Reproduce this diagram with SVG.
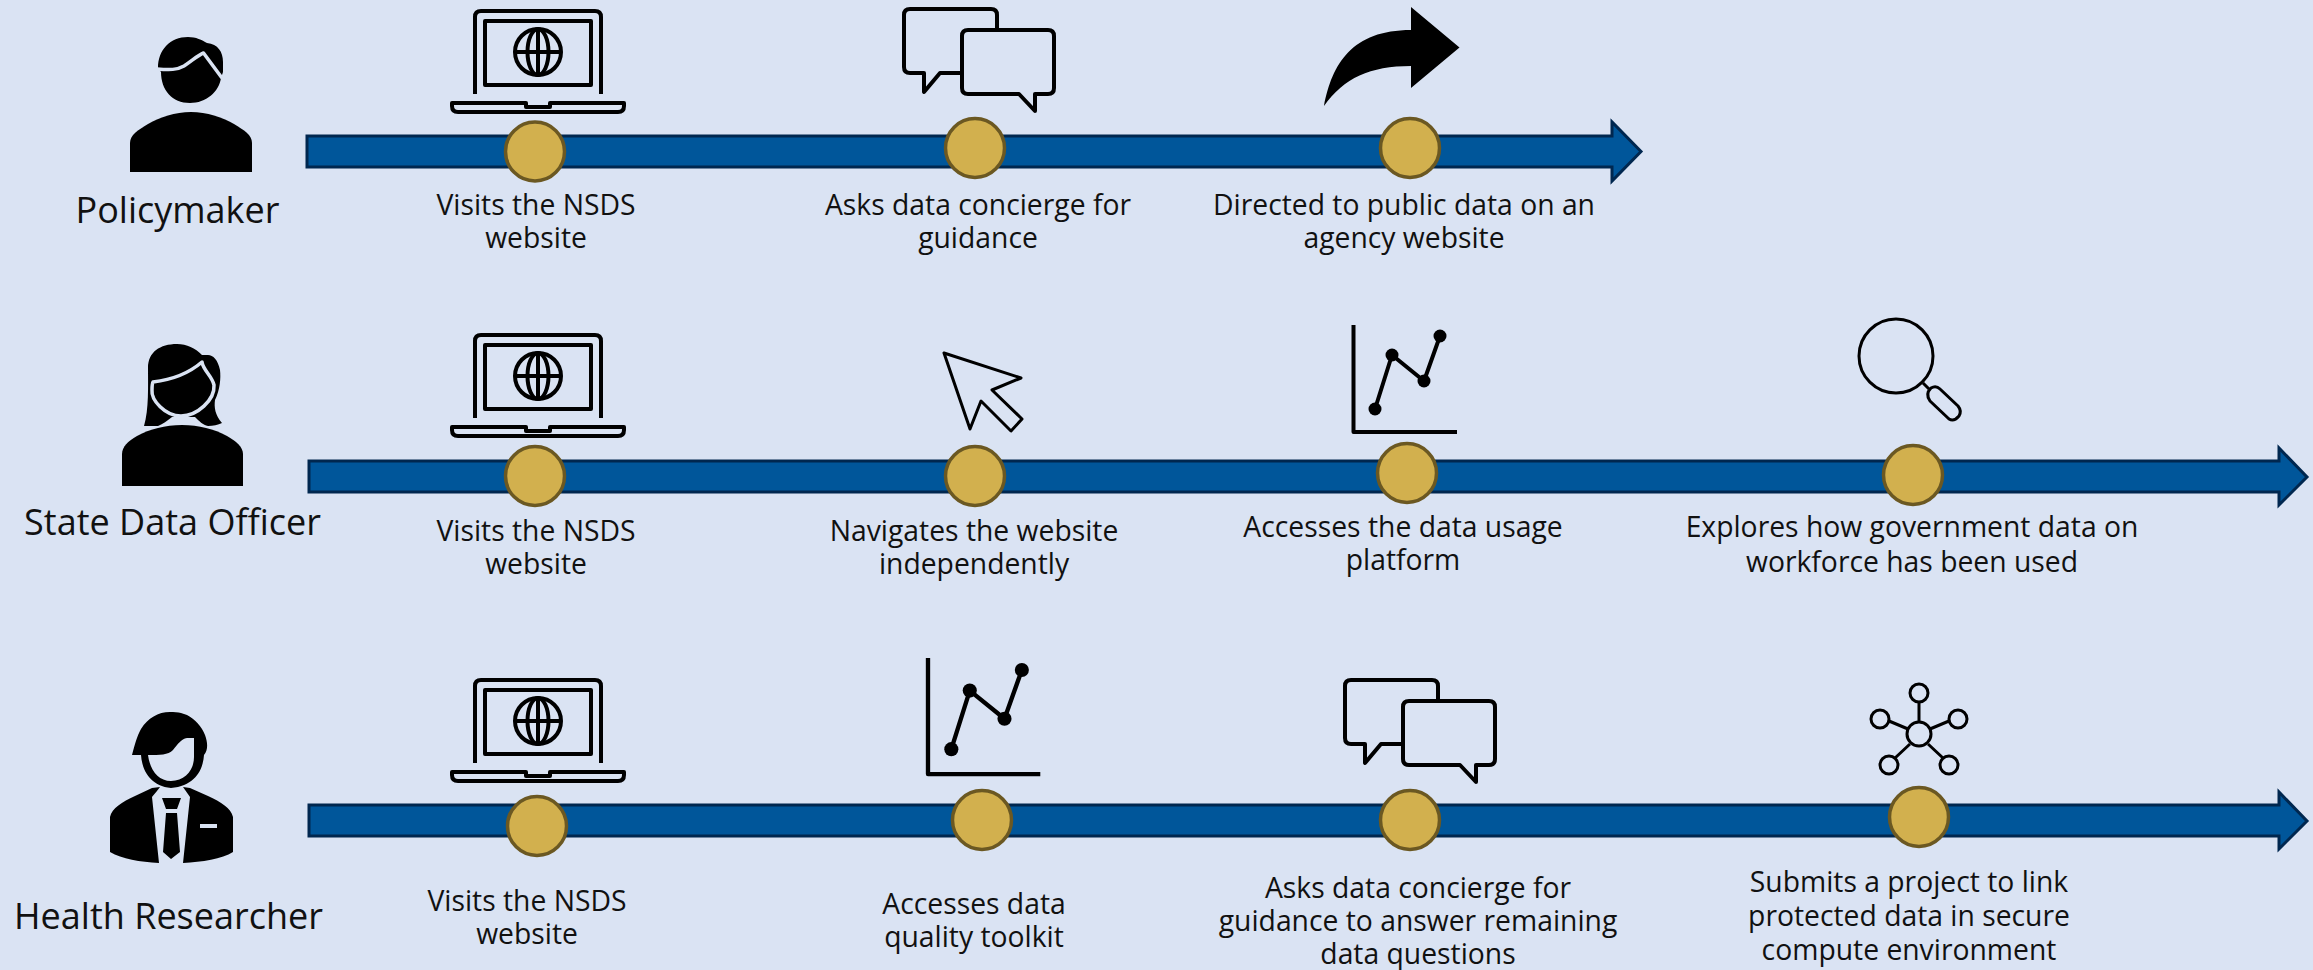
<svg xmlns="http://www.w3.org/2000/svg" xmlns:xlink="http://www.w3.org/1999/xlink" width="2313" height="970" viewBox="0 0 2313 970">
<style>
text{font-family:"Open Sans","Noto Sans","Liberation Sans",sans-serif;fill:#111;text-anchor:middle}
.lab{font-size:28.3px}
.role{font-size:36px}
.bar{fill:#00569A;stroke:#00274F;stroke-width:3}
.dot{fill:#D2B04E;stroke:#6B5822;stroke-width:3.5}
.ol{fill:none;stroke:#000;stroke-width:4;stroke-linejoin:round}
.thin{fill:none;stroke:#000;stroke-width:3;stroke-linejoin:round}
.cut{fill:none;stroke:#DAE3F3;stroke-width:3.5;stroke-linejoin:round}
</style>
<defs>
<g id="laptop">
<path class="ol" d="M475 94V17Q475 11 481 11H595Q601 11 601 17V94"/>
<rect class="ol" x="485" y="21" width="106" height="64"/>
<circle class="ol" cx="538" cy="52" r="23"/>
<ellipse class="ol" cx="538" cy="52" rx="10.500" ry="23"/>
<path class="ol" d="M538 29V75M515 52H561"/>
<path class="ol" d="M452 103H526V107H550V103H624V106Q624 112 618 112H458Q452 112 452 106Z"/>
</g>
<g id="bubbles">
<path class="ol" d="M910 9H991Q997 9 997 15V32M962 73H940L924 92V73H910Q904 73 904 67V15Q904 9 910 9"/>
<path class="ol" d="M968 30H1048Q1054 30 1054 36V88Q1054 94 1048 94H1035V111L1019 94H968Q962 94 962 88V36Q962 30 968 30Z"/>
</g>
<g id="chart">
<path class="ol" d="M1353.500 325V432H1457"/>
<path class="ol" d="M1375 409L1392 355L1424 381L1440 336"/>
<circle cx="1375" cy="409" r="6.500"/><circle cx="1392" cy="355" r="6.500"/><circle cx="1424" cy="381" r="6.500"/><circle cx="1440" cy="336" r="6.500"/>
</g>
</defs>
<rect width="2313" height="970" fill="#DAE3F3"/>
<g id="connectors">
<path class="bar" d="M307 136H1612V122L1641 151.500L1612 181V167H307Z"/>
<path class="bar" d="M309 461H2279V448L2307 477L2279 505V492H309Z"/>
<path class="bar" d="M309 805H2279V792L2307 821L2279 849V836H309Z"/>
</g>
<g id="policymaker">
<path d="M158 68C158 50 170 37 188 37C196 37 202 40 207 43C218 44 223 52 223 62V72L221 78C219 92 206 103 190 103C172 103 161 90 161 72Z"/>
<path class="cut" d="M157 69C170 70 177 70 184 66C192 61 198 55 203.500 53L222 78"/>
<path d="M130 172V143C130 135 138 130 148 124C160 117 175 112 191 112C207 112 222 117 234 124C244 130 252 135 252 143V172Z"/>
<text class="role" x="177.500" y="223">Policymaker</text>
</g>
<g id="step-1-1"><use xlink:href="#laptop" href="#laptop"/><circle class="dot" cx="535" cy="151.500" r="29.500"/>
<text class="lab" x="536" y="215">Visits the NSDS</text><text class="lab" x="536" y="248">website</text></g>
<g id="step-1-2"><use xlink:href="#bubbles" href="#bubbles"/><circle class="dot" cx="975" cy="148" r="29.500"/>
<text class="lab" x="978" y="215">Asks data concierge for</text><text class="lab" x="978" y="248">guidance</text></g>
<g id="step-1-3"><path d="M1324 106C1332 64 1352 30 1411 30V7L1459.500 47.500L1411 88V66C1370 66 1344 78 1324 106Z"/><circle class="dot" cx="1410" cy="148" r="29.500"/>
<text class="lab" x="1404" y="215">Directed to public data on an</text><text class="lab" x="1404" y="248">agency website</text></g>

<g id="state-data-officer">
<path d="M177 344C160 344 148 352 148 368C148 385 149 410 144 426C150 426 156 426 158 426C163 424 167 421 172 417L195 417C199 421 203 425 208 426C213 426 218 425 222 423C215 415 214 407 215 400C220 390 221 378 220 370C218 360 213 355 208 355C205 355 203 355 202 355C195 348 187 344 177 344Z"/>
<path class="cut" d="M153 382C170 380 188 374 202 362C203 370 212 376 214 385C215 400 197 416 181 416C165 416 151 400 152 390C152 386 152 384 153 382Z"/>
<path d="M122 486V454C122 447 128 441 137 436C150 429 165 425 182 425C199 425 214 429 227 436C236 441 243 447 243 454V486Z"/>
<text class="role" x="172.500" y="535">State Data Officer</text>
</g>
<g id="step-2-1"><use xlink:href="#laptop" href="#laptop" y="324"/><circle class="dot" cx="535" cy="476" r="29.500"/>
<text class="lab" x="536" y="541">Visits the NSDS</text><text class="lab" x="536" y="574">website</text></g>
<g id="step-2-2"><path class="thin" d="M944 353L1021 378L992 390L1022 419L1011 431L981 401L970 429Z"/><circle class="dot" cx="975" cy="476" r="29.500"/>
<text class="lab" x="974" y="541">Navigates the website</text><text class="lab" x="974" y="574">independently</text></g>
<g id="step-2-3"><use xlink:href="#chart" href="#chart"/><circle class="dot" cx="1407" cy="473" r="29.500"/>
<text class="lab" x="1403" y="537">Accesses the data usage</text><text class="lab" x="1403" y="570">platform</text></g>
<g id="step-2-4">
<circle class="thin" cx="1896" cy="356" r="37"/><path class="thin" d="M1923 383L1929 389"/>
<path class="thin" d="M1931 388Q1936 385 1940 389L1958 406Q1962 411 1959 416Q1954 422 1949 419L1930 401Q1925 394 1931 388Z"/>
<circle class="dot" cx="1913" cy="475" r="29.500"/>
<text class="lab" x="1912" y="537">Explores how government data on</text><text class="lab" x="1912" y="572">workforce has been used</text></g>

<g id="health-researcher">
<path d="M132 755C135 744 137 736 141 729C148 718 158 712 170 712C174 712 178 712 181 713L187 715C195 719 202 727 205 735C208 743 208 750 204 755C203 770 195 786 171 788C150 786 142 770 141 755Z"/>
<path fill="#DAE3F3" d="M148 755C150 770 158 781 171 781C185 781 194 770 194 757V738H187C181 739 178 744 173 750C168 755 160 755 148 755Z"/>
<path d="M160 787C158 790 155 793 152 797L159 863C140 862 122 859 110 852V817C112 808 122 802 135 796L152 788ZM183 787L190 797L183 863C202 862 222 859 233 852V817C231 808 221 802 208 796L190 788Z"/>
<path d="M162 798H181L177 809H166ZM166 813H177L180 852L171 859L163 852Z"/>
<rect x="200" y="824" width="17" height="4" fill="#DAE3F3"/>
<text class="role" x="168.500" y="929">Health Researcher</text>
</g>
<g id="step-3-1"><use xlink:href="#laptop" href="#laptop" y="669"/><circle class="dot" cx="537" cy="826" r="29.500"/>
<text class="lab" x="527" y="911">Visits the NSDS</text><text class="lab" x="527" y="944">website</text></g>
<g id="step-3-2"><use xlink:href="#chart" href="#chart" transform="translate(-540.550 305.400) scale(1.085)"/><circle class="dot" cx="982" cy="820" r="29.500"/>
<text class="lab" x="974" y="914">Accesses data</text><text class="lab" x="974" y="947">quality toolkit</text></g>
<g id="step-3-3"><use xlink:href="#bubbles" href="#bubbles" x="441" y="671"/><circle class="dot" cx="1410" cy="820" r="29.500"/>
<text class="lab" x="1418" y="898">Asks data concierge for</text><text class="lab" x="1418" y="931">guidance to answer remaining</text><text class="lab" x="1418" y="964">data questions</text></g>
<g id="step-3-4">
<path class="thin" d="M1919 722V702M1908 729L1889 721M1930 729L1949 721M1910 744L1895 758M1928 744L1943 758"/>
<circle class="thin" cx="1919" cy="734" r="12"/><circle class="thin" cx="1919" cy="693" r="9"/><circle class="thin" cx="1880" cy="719" r="9"/><circle class="thin" cx="1958" cy="719" r="9"/><circle class="thin" cx="1889" cy="765" r="9"/><circle class="thin" cx="1949" cy="765" r="9"/>
<circle class="dot" cx="1919" cy="817" r="29.500"/>
<text class="lab" x="1909" y="892">Submits a project to link</text><text class="lab" x="1909" y="926">protected data in secure</text><text class="lab" x="1909" y="960">compute environment</text></g>
</svg>
